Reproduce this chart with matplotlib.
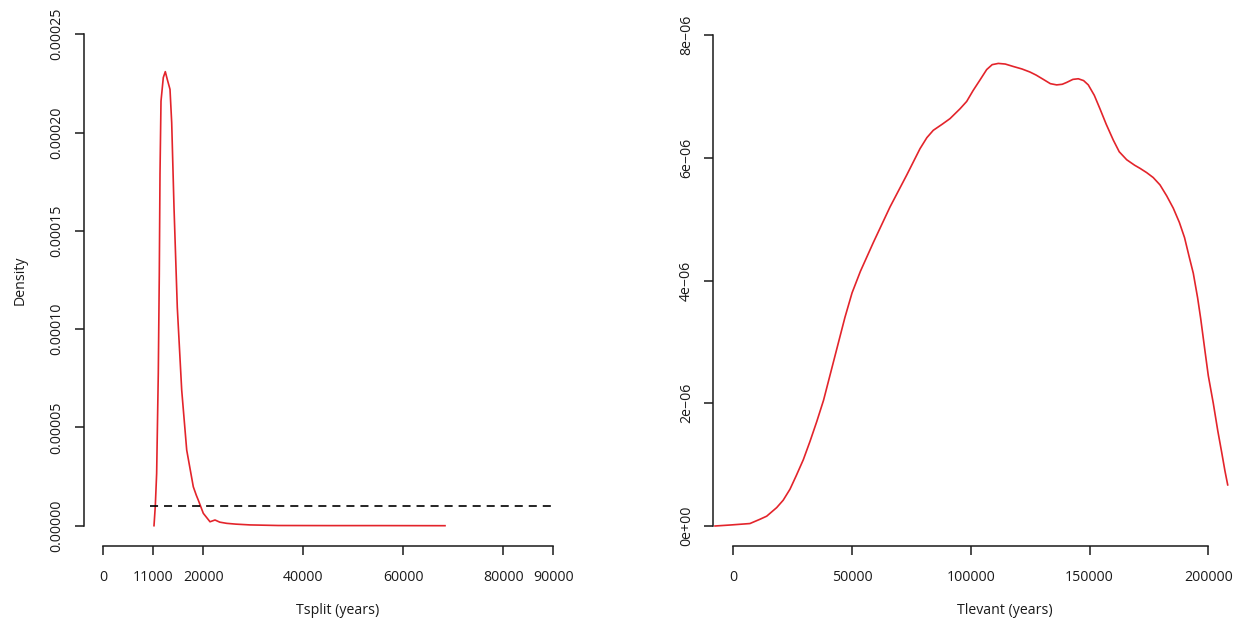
import matplotlib
matplotlib.use("Agg")
import matplotlib.pyplot as plt

# ---------------- data ----------------
tsplit_x = [10140, 10400, 10670, 11000, 11200, 11340, 11540, 12000, 12400, 12800,
            13340, 13680, 14140, 14800, 15680, 16680, 18000, 18600, 19000, 20000,
            21340, 22340, 23300, 24680, 26500, 29340, 35000, 45000, 55000, 68340]
tsplit_y = [0.0, 1.0e-5, 2.66e-5, 7.76e-5, 1.28e-4, 1.79e-4, 2.16e-4, 2.28e-4, 2.31e-4, 2.27e-4,
            2.22e-4, 2.05e-4, 1.62e-4, 1.11e-4, 6.9e-5, 3.85e-5, 1.98e-5, 1.55e-5, 1.3e-5, 6.3e-6,
            2.0e-6, 2.9e-6, 1.8e-6, 1.2e-6, 0.8e-6, 0.4e-6, 0.1e-6, 0.05e-6, 0.05e-6, 0.0]
prior_x = [9300, 90300]
prior_y = [1.0e-5, 1.0e-5]

tlevant_x = [-7700, -1400, 7000, 11240, 14060, 18270, 21000, 23870, 26500, 29470,
             32300, 35120, 38000, 41000, 44000, 47000, 50000, 53500, 58950, 65980,
             73010, 78610, 81500, 84210, 88000, 91240, 95450, 98260, 101000, 103870,
             106690, 109000, 111580, 114500, 117890, 121500, 124900, 127500, 130530, 133500,
             136140, 138500, 140350, 143000, 145260, 147500, 149470, 152000, 154390, 157000,
             160000, 162500, 165640, 169000, 171240, 174060, 176800, 179660, 182500, 185260,
             187800, 190000, 192000, 193680, 195500, 196800, 198610, 200000, 202100, 204000,
             205640, 207000, 208170]
tlevant_y_e6 = [0.0, 0.016, 0.04, 0.11, 0.16, 0.30, 0.42, 0.60, 0.82, 1.08,
                1.38, 1.70, 2.05, 2.50, 2.95, 3.40, 3.80, 4.15, 4.62, 5.20,
                5.72, 6.15, 6.33, 6.45, 6.55, 6.64, 6.80, 6.92, 7.10, 7.27,
                7.44, 7.52, 7.54, 7.53, 7.49, 7.45, 7.40, 7.35, 7.28, 7.21,
                7.19, 7.20, 7.23, 7.28, 7.29, 7.26, 7.19, 7.02, 6.80, 6.55,
                6.29, 6.10, 5.97, 5.88, 5.83, 5.76, 5.68, 5.56, 5.38, 5.18,
                4.95, 4.70, 4.38, 4.12, 3.72, 3.38, 2.85, 2.45, 2.00, 1.55,
                1.20, 0.90, 0.67]
tlevant_y = [v * 1e-6 for v in tlevant_y_e6]

left_xticks = [0, 10000, 20000, 40000, 60000, 80000, 90000]
left_xticklabels = ["0", "11000", "20000", "40000", "60000", "80000", "90000"]
left_yticks = [0.0, 0.00005, 0.00010, 0.00015, 0.00020, 0.00025]
left_yticklabels = ["0.00000", "0.00005", "0.00010", "0.00015", "0.00020", "0.00025"]

right_xticks = [0, 50000, 100000, 150000, 200000]
right_xticklabels = ["0", "50000", "100000", "150000", "200000"]
right_yticks = [0.0, 2e-6, 4e-6, 6e-6, 8e-6]
right_yticklabels = ["0e+00", "2e\u221206", "4e\u221206", "6e\u221206", "8e\u221206"]

# ---------------- style ----------------
plt.rcParams['font.family'] = ['Open Sans', 'DejaVu Sans']
plt.rcParams['lines.scale_dashes'] = False
W, H = 1244, 625
fig = plt.figure(figsize=(W / 100, H / 100), dpi=100)
fig.patch.set_facecolor("white")

RED = "#e3242b"
AX = "#1a1a1a"
TXT = "#1a1a1a"
FS = 10.2


def px2fig(x, y):
    return x / W, 1 - y / H


def make_axes(left_px, right_px, top_px, bottom_px):
    x0, y1 = px2fig(left_px, top_px)
    x1, y0 = px2fig(right_px, bottom_px)
    return fig.add_axes([x0, y0, x1 - x0, y1 - y0])


def style(ax, xb, yb):
    for s in ("top", "right"):
        ax.spines[s].set_visible(False)
    for s in ("left", "bottom"):
        ax.spines[s].set_color(AX)
        ax.spines[s].set_linewidth(1.1)
    ax.spines["bottom"].set_bounds(*xb)
    ax.spines["left"].set_bounds(*yb)
    ax.tick_params(axis="both", direction="out", length=6.5, width=1.1,
                   color=AX, labelcolor=TXT, labelsize=FS)
    ax.tick_params(axis="x", pad=10.5)
    ax.tick_params(axis="y", pad=7.5)
    ax.set_facecolor("white")


# ---------------- left panel ----------------
axL = make_axes(84, 565, 30, 546)
axL.set_xlim((84 - 103.3) * 200, (565 - 103.3) * 200)
axL.set_ylim(-(546 - 525.7) / 491.4 * 0.00025, (525.7 - 30) / 491.4 * 0.00025)
axL.plot(tsplit_x, tsplit_y, color=RED, lw=1.2, solid_joinstyle="round")
axL.plot(prior_x, prior_y, color="black", lw=1.2, linestyle=(0, (5.8, 4.3)))
style(axL, (0, 90000), (0, 0.00025))
axL.set_xticks(left_xticks)
axL.set_xticklabels(left_xticklabels)
axL.set_yticks(left_yticks)
axL.set_yticklabels(left_yticklabels, rotation=90, va="center")
axL.set_xlabel("Tsplit (years)", fontsize=FS, color=TXT)
axL.xaxis.set_label_coords(*px2fig(338, 610), transform=fig.transFigure)
axL.xaxis.label.set_va("center")
axL.set_ylabel("Density", fontsize=FS, color=TXT)
axL.yaxis.set_label_coords(*px2fig(20, 280), transform=fig.transFigure)
axL.yaxis.label.set_va("center")

# ---------------- right panel ----------------
axR = make_axes(713.3, 1235, 30, 546)
axR.set_xlim((713.3 - 733.3) / 118.75 * 50000, (1235 - 733.3) / 118.75 * 50000)
axR.set_ylim(-(546 - 526) / 122.7 * 2e-6, (526 - 30) / 122.7 * 2e-6)
axR.plot(tlevant_x, tlevant_y, color=RED, lw=1.2, solid_joinstyle="round")
style(axR, (0, 200000), (0, 8e-6))
axR.set_xticks(right_xticks)
axR.set_xticklabels(right_xticklabels)
axR.set_yticks(right_yticks)
axR.set_yticklabels(right_yticklabels, rotation=90, va="center")
axR.set_xlabel("Tlevant (years)", fontsize=FS, color=TXT)
axR.xaxis.set_label_coords(*px2fig(1005, 610), transform=fig.transFigure)
axR.xaxis.label.set_va("center")

fig.savefig("out.png", dpi=100, facecolor="white")
